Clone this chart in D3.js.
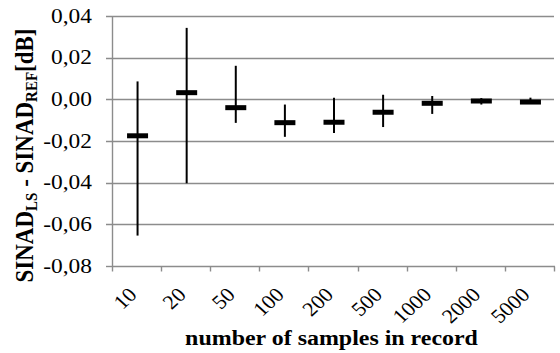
<!DOCTYPE html>
<html>
<head>
<meta charset="utf-8">
<script src="https://cdn.jsdelivr.net/npm/d3@7/dist/d3.min.js"></script>
<style>
  html, body { margin: 0; padding: 0; background: #fff; }
  svg { display: block; }
  text { font-family: "Liberation Serif", "Times New Roman", serif; fill: #000; }
</style>
</head>
<body>
<svg id="chart" width="560" height="353"></svg>
<script>
// Record lengths (number of samples)
const categories = ["10", "20", "50", "100", "200", "500", "1000", "2000", "5000"];
// Mean SINAD difference [dB] for each record length
const meanValues = [-0.0175, 0.0032, -0.0040, -0.0112, -0.0110, -0.0062, -0.0019, -0.0008, -0.0013];
// Upper and lower ends of the spread [dB]
const upperValues = [0.0086, 0.0343, 0.0161, -0.0025, 0.0008, 0.0022, 0.0016, 0.0006, 0.0008];
const lowerValues = [-0.0654, -0.0403, -0.0113, -0.0180, -0.0161, -0.0133, -0.0070, -0.0025, -0.0018];
// Y-axis tick values
const yTicks = [0.04, 0.02, 0.00, -0.02, -0.04, -0.06, -0.08];

const svg = d3.select("#chart");
const W = 560, H = 353;
const margin = { left: 112, right: 6, top: 16, bottom: 87 };
const x0 = margin.left, x1 = W - margin.right;
const y0 = margin.top, y1 = H - margin.bottom;
const SX = 1.17;            // horizontal widening of the tick lettering
const GRID = "#8c8c8c";

const x = d3.scaleBand().domain(categories).range([x0, x1]).padding(0);
const y = d3.scaleLinear().domain([-0.08, 0.04]).range([y1, y0]);

const fmt = v => (v < 0 ? "-" : "") + Math.abs(v).toFixed(2).replace(".", ",");
const px = v => Math.round(v) + 0.5;

// Horizontal gridlines (extend left of the axis as tick marks)
svg.append("g")
  .selectAll("line")
  .data(yTicks)
  .join("line")
  .attr("x1", x0 - 6).attr("x2", d => d === -0.08 ? x0 : x1)
  .attr("y1", d => px(y(d))).attr("y2", d => px(y(d)))
  .attr("stroke", GRID).attr("stroke-width", 1.4);

// Y axis line
svg.append("line")
  .attr("x1", px(x0)).attr("x2", px(x0))
  .attr("y1", px(y(0.04))).attr("y2", px(y(-0.08)))
  .attr("stroke", GRID).attr("stroke-width", 1.4);

// Y tick labels
svg.append("g")
  .selectAll("text")
  .data(yTicks)
  .join("text")
  .attr("transform", d => `translate(92,${y(d)}) scale(${SX},1)`)
  .attr("text-anchor", "end")
  .attr("dy", "0.34em")
  .attr("font-size", 20)
  .text(fmt);

// X axis line with tick marks at category boundaries
const gx = svg.append("g").attr("transform", `translate(0,${px(y1)})`);
gx.append("line").attr("x1", x0).attr("x2", x1 + 1)
  .attr("stroke", GRID).attr("stroke-width", 1.4);
const boundaries = categories.map(c => x(c)).concat([x1]);
gx.selectAll("line.tk").data(boundaries).join("line").attr("class", "tk")
  .attr("x1", d => px(d)).attr("x2", d => px(d))
  .attr("y1", 0).attr("y2", 5)
  .attr("stroke", GRID).attr("stroke-width", 1.4);

// X tick labels, rotated
svg.append("g")
  .selectAll("text")
  .data(categories)
  .join("text")
  .attr("transform", d => `translate(${x(d) + x.bandwidth() / 2 + 1.5},296) scale(1.1,1) rotate(-45)`)
  .attr("text-anchor", "end")
  .attr("font-size", 20)
  .text(d => d);

// Error bars: vertical spread line and a thick mean marker
const bars = svg.append("g");
categories.forEach((c, i) => {
  const cx = x(c) + x.bandwidth() / 2 + 1;
  bars.append("line")
    .attr("x1", cx).attr("x2", cx)
    .attr("y1", y(upperValues[i])).attr("y2", y(lowerValues[i]))
    .attr("stroke", "#000").attr("stroke-width", 2);
  bars.append("rect")
    .attr("x", cx - 10.5).attr("width", 21)
    .attr("y", y(meanValues[i]) - 2.5).attr("height", 5)
    .attr("fill", "#000");
});

// Axis titles
svg.append("text")
  .attr("transform", `translate(331.5,345) scale(1.14,1)`)
  .attr("text-anchor", "middle")
  .attr("font-size", 21).attr("font-weight", "bold")
  .text("number of samples in record");

const yt = svg.append("text")
  .attr("transform", `translate(33,155.5) scale(1.05,1) rotate(-90)`)
  .attr("text-anchor", "middle")
  .attr("font-size", 23).attr("font-weight", "bold");
yt.append("tspan").text("SINAD");
yt.append("tspan").attr("font-size", 15).attr("dy", 4).text("LS");
yt.append("tspan").attr("dy", -4).text(" - SINAD");
yt.append("tspan").attr("font-size", 15).attr("dy", 4).text("REF");
yt.append("tspan").attr("dy", -4).text("[dB]");
</script>
</body>
</html>
